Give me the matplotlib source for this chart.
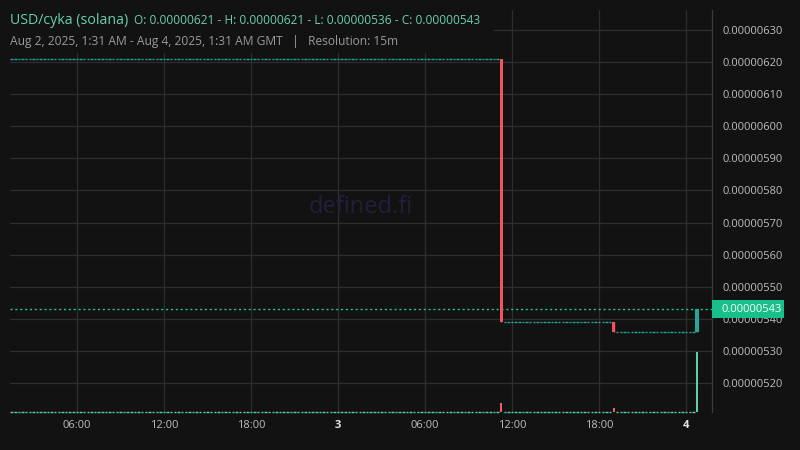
import pandas as pd
import numpy as np
import matplotlib
matplotlib.use("Agg")
import matplotlib.pyplot as plt
import matplotlib.dates as mdates
import matplotlib.transforms as mtransforms
from matplotlib.patches import Rectangle

# 15m candles, Aug 2 01:30 -> Aug 4 00:45 (GMT)
start = "2025-08-02 01:30"
end = "2025-08-04 00:45"

# candles where something actually traded, everything else is flat
event_times = ["2025-08-03 11:15", "2025-08-03 19:00", "2025-08-04 00:45"]
event_open = [6.21e-6, 5.39e-6, 5.36e-6]
event_high = [6.21e-6, 5.39e-6, 5.43e-6]
event_low = [5.39e-6, 5.36e-6, 5.36e-6]
event_close = [5.39e-6, 5.36e-6, 5.43e-6]
event_volume = [150, 65, 1000]

first_price = 6.21e-6
last_price = 5.43e-6

yticks = [5.2e-6, 5.3e-6, 5.4e-6, 5.5e-6, 5.6e-6, 5.7e-6, 5.8e-6, 5.9e-6,
          6.0e-6, 6.1e-6, 6.2e-6, 6.3e-6]
xtick_times = ["2025-08-02 06:00", "2025-08-02 12:00", "2025-08-02 18:00",
               "2025-08-03 00:00", "2025-08-03 06:00", "2025-08-03 12:00",
               "2025-08-03 18:00", "2025-08-04 00:00"]
xtick_labels = ["06:00", "12:00", "18:00", "3", "06:00", "12:00", "18:00", "4"]

bg = "#121212"
grid_c = "#2e2e2e"
up = "#26a69a"
down = "#ef5261"
vol_up = "#5ccfae"
vol_down = "#e8606c"
last_c = "#1dc98f"

plt.rcParams["font.family"] = ["Open Sans", "DejaVu Sans"]

# build the full candle table
times = pd.date_range(start, end, freq="15min")
ev = pd.DataFrame({"open": event_open, "high": event_high, "low": event_low,
                   "close": event_close, "volume": event_volume},
                  index=pd.to_datetime(event_times))
rows = []
prev = first_price
for t in times:
    if t in ev.index:
        r = ev.loc[t]
        rows.append((t, r.open, r.high, r.low, r.close, r.volume))
        prev = r.close
    else:
        rows.append((t, prev, prev, prev, prev, 0.0))
df = pd.DataFrame(rows, columns=["t", "open", "high", "low", "close", "volume"])
df["x"] = mdates.date2num(df["t"])

fig = plt.figure(figsize=(8, 4.5), dpi=100, facecolor=bg)
ax = fig.add_axes([10 / 800, 38 / 450, 702 / 800, 402 / 450])
ax.set_facecolor(bg)

slot = 1 / 96
w = slot * 0.68
wb = slot * 0.85

# flat candles -> little dashes
flat = df[df["open"] == df["close"]]
ax.hlines(flat["close"], flat["x"] - w / 2, flat["x"] + w / 2, color=up, lw=1.0, zorder=3)

# real candles
moved = df[df["open"] != df["close"]]
for _, r in moved.iterrows():
    c = up if r.close > r.open else down
    ax.vlines(r.x, r.low, r.high, color=c, lw=1.0, zorder=3)
    ax.bar(r.x, abs(r.close - r.open), bottom=min(r.open, r.close), width=wb,
           color=c, zorder=3, linewidth=0)

# current price line
ax.axhline(last_price, color=last_c, lw=1.0, ls=(0, (1.5, 2)), zorder=2)

ax.set_ylim(5.1096e-6, 6.3623e-6)
x0 = mdates.date2num(pd.Timestamp("2025-08-02 01:23"))
x1 = mdates.date2num(pd.Timestamp("2025-08-04 01:47"))
ax.set_xlim(x0, x1)

# volume overlay at the bottom
vax = ax.twinx()
vax.set_ylim(-4, 6700)
vax.set_xlim(x0, x1)
vax.axis("off")
vol = df[df["volume"] > 0]
vcols = [vol_up if c > o else vol_down for o, c in zip(vol["open"], vol["close"])]
vax.bar(vol["x"], vol["volume"], width=slot * 0.55, color=vcols, linewidth=0)
novol = df[df["volume"] == 0]
vax.hlines(np.zeros(len(novol)), novol["x"] - w / 2, novol["x"] + w / 2,
           color=vol_up, lw=1.0, clip_on=False)

ax.set_yticks(yticks)
ax.yaxis.set_major_formatter(plt.FuncFormatter(lambda v, p: "%.8f" % v))
ax.yaxis.tick_right()
ax.tick_params(axis="y", length=0, pad=7.5, labelsize=8, labelcolor="#bdbdbd")
ax.set_xticks(mdates.date2num(pd.to_datetime(xtick_times)))
ax.set_xticklabels(xtick_labels)
ax.tick_params(axis="x", length=0, pad=6, labelsize=8, labelcolor="#bdbdbd")
for lab in ax.get_xticklabels():
    if lab.get_text() in ("3", "4"):
        lab.set_fontweight("bold")
        lab.set_color("#e6e6e6")

ax.grid(True, color=grid_c, lw=0.9)
ax.set_axisbelow(True)
for s in ["top", "left", "bottom"]:
    ax.spines[s].set_visible(False)
ax.spines["right"].set_color("#3a3a3a")
ax.spines["right"].set_linewidth(0.9)

# last price tag on the axis
blend = mtransforms.blended_transform_factory(ax.transAxes, ax.transData)
tag = mtransforms.ScaledTranslation(1, last_price, blend)
fig.patches.append(Rectangle((0, -9), 72, 18, transform=tag, facecolor="#17c08b",
                             edgecolor="none", zorder=10))
fig.text(10, 0, "0.00000543", transform=tag, color="white", fontsize=8,
         va="center", ha="left", zorder=11)

# watermark
ax.text(0.50, 0.51, "defined.fi", transform=ax.transAxes, color="#221f3d",
        fontsize=17, ha="center", va="center", zorder=1)

# header box over the grid
fig.patches.append(Rectangle((0, 1 - 53 / 450), 494 / 800, 53 / 450,
                             transform=fig.transFigure, facecolor=bg,
                             edgecolor="none", zorder=5))
fig.text(10 / 800, 1 - 24 / 450, "USD/cyka (solana)", color="#68d0b0",
         fontsize=10.2, va="baseline", zorder=6)
fig.text(134 / 800, 1 - 24 / 450,
         "O: 0.00000621 - H: 0.00000621 - L: 0.00000536 - C: 0.00000543",
         color="#68d0b0", fontsize=8.6, va="baseline", zorder=6)
fig.text(10 / 800, 1 - 45 / 450,
         "Aug 2, 2025, 1:31 AM - Aug 4, 2025, 1:31 AM GMT   |   Resolution: 15m",
         color="#9a9a9a", fontsize=8.65, va="baseline", zorder=6)

fig.savefig("out.png", dpi=100, facecolor=bg)
